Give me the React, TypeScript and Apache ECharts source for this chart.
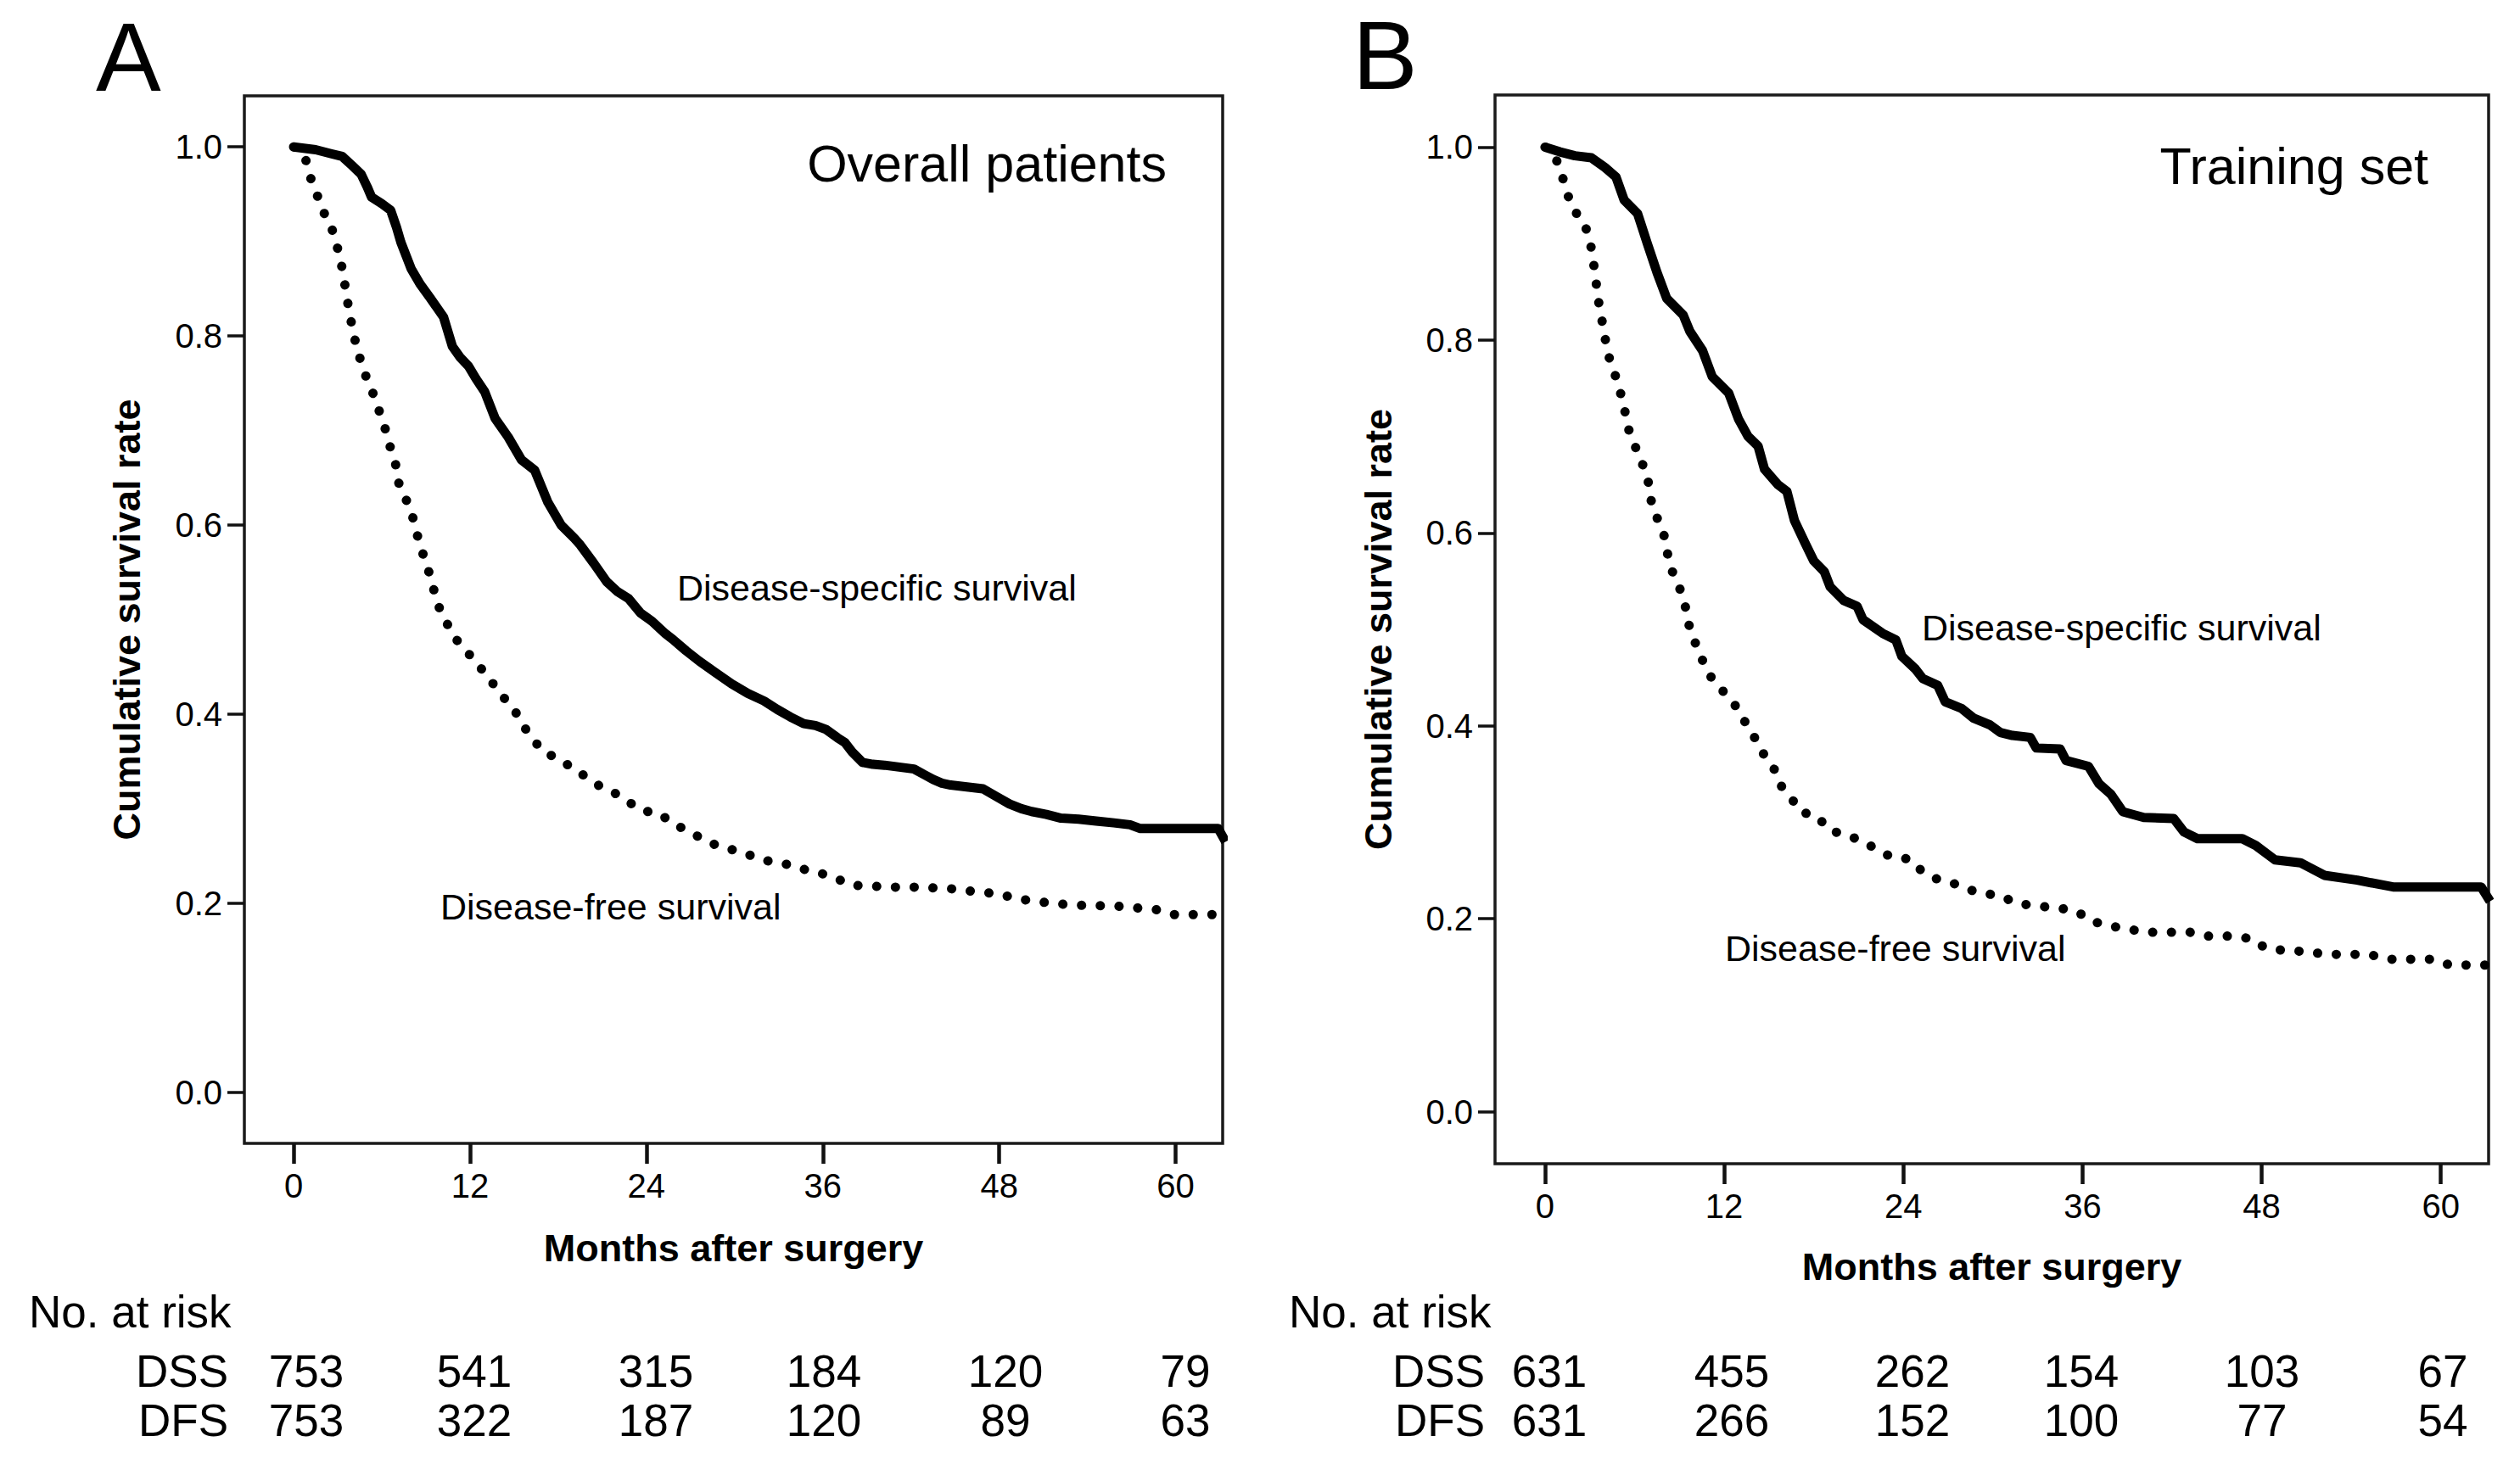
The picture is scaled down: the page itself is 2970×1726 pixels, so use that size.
import React, { useEffect, useRef } from "react";
import * as echarts from "echarts";

// ---------- data ----------
const MONTH_TICKS = [0, 12, 24, 36, 48, 60];
const RATE_TICKS = [0, 0.2, 0.4, 0.6, 0.8, 1.0];

const PANEL_LETTERS = ["A", "B"];
const PANEL_TITLES = ["Overall patients", "Training set"];
const CURVE_LABELS = ["Disease-specific survival", "Disease-free survival"];
const RISK_ROW_NAMES = ["DSS", "DFS"];

// Panel A – overall patients (month, cumulative survival)
const DSS_A: [number, number][] = [
  [0, 1.0], [1.5, 0.997], [2.5, 0.993], [3.3, 0.99], [4.0, 0.98], [4.6, 0.971], [5.0, 0.958], [5.3, 0.947],
  [6.0, 0.94], [6.6, 0.933], [7.0, 0.915], [7.3, 0.899], [8.0, 0.871], [8.6, 0.855], [9.3, 0.84], [10.2, 0.82],
  [10.8, 0.789], [11.3, 0.778], [11.9, 0.768], [12.4, 0.755], [13.0, 0.741], [13.7, 0.713], [14.6, 0.693],
  [15.5, 0.669], [16.4, 0.658], [17.3, 0.624], [18.2, 0.6], [19.1, 0.586], [19.5, 0.579], [20.4, 0.56],
  [21.3, 0.54], [22.0, 0.53], [22.8, 0.522], [23.6, 0.507], [24.4, 0.498], [25.3, 0.485], [25.8, 0.479],
  [26.7, 0.467], [27.6, 0.456], [28.7, 0.444], [29.8, 0.432], [30.9, 0.422], [32.0, 0.414], [32.9, 0.405],
  [33.8, 0.397], [34.7, 0.39], [35.5, 0.388], [36.2, 0.384], [37.0, 0.375], [37.5, 0.37], [38.0, 0.36],
  [38.7, 0.349], [39.4, 0.347], [40.2, 0.346], [41.2, 0.344], [42.2, 0.342], [42.9, 0.336], [43.5, 0.331],
  [44.1, 0.327], [44.7, 0.325], [45.8, 0.323], [46.9, 0.321], [47.8, 0.313], [48.7, 0.305], [49.5, 0.3],
  [50.2, 0.297], [51.2, 0.294], [52.2, 0.29], [53.4, 0.289], [54.6, 0.287], [55.8, 0.285], [56.9, 0.283],
  [57.6, 0.279], [62.9, 0.279], [63.4, 0.265],
];
const DFS_A: [number, number][] = [
  [0, 1.0], [0.4, 0.995], [0.8, 0.988], [1.16, 0.967], [1.5, 0.954], [1.94, 0.933], [2.5, 0.92], [2.8, 0.902],
  [3.15, 0.885], [3.4, 0.862], [3.6, 0.844], [3.8, 0.823], [4.05, 0.806], [4.3, 0.786], [4.7, 0.768],
  [5.05, 0.751], [5.5, 0.736], [5.9, 0.717], [6.27, 0.7], [6.6, 0.681], [6.94, 0.664], [7.14, 0.645],
  [7.6, 0.629], [8.05, 0.612], [8.3, 0.595], [8.64, 0.578], [9.0, 0.559], [9.4, 0.542], [9.65, 0.523],
  [10.1, 0.505], [10.65, 0.49], [11.2, 0.476], [11.9, 0.464], [12.6, 0.452], [13.2, 0.438], [13.9, 0.427],
  [14.5, 0.413], [15.2, 0.4], [15.75, 0.385], [16.4, 0.371], [17.1, 0.359], [18.2, 0.352], [19.0, 0.342],
  [20.0, 0.333], [20.9, 0.323], [21.8, 0.317], [22.7, 0.308], [23.7, 0.298], [24.9, 0.295], [25.8, 0.284],
  [26.8, 0.277], [27.7, 0.269], [28.8, 0.261], [30.0, 0.256], [31.2, 0.25], [32.2, 0.245], [33.6, 0.241],
  [34.7, 0.236], [36.0, 0.231], [37.1, 0.225], [38.0, 0.219], [39.3, 0.218], [40.9, 0.217], [42.4, 0.217],
  [43.8, 0.216], [45.1, 0.215], [46.4, 0.212], [48.0, 0.21], [49.1, 0.205], [50.5, 0.202], [51.6, 0.2],
  [53.0, 0.198], [56.0, 0.197], [57.4, 0.195], [58.8, 0.193], [59.9, 0.188], [63.4, 0.188],
];

// Panel B – training set
const DSS_B: [number, number][] = [
  [0, 1.0], [1.0, 0.995], [2.0, 0.991], [3.1, 0.989], [4.0, 0.979], [4.75, 0.969], [5.3, 0.945], [6.2, 0.931],
  [6.85, 0.9], [7.5, 0.87], [8.15, 0.843], [9.25, 0.826], [9.7, 0.809], [10.55, 0.789], [11.2, 0.762],
  [12.3, 0.745], [12.96, 0.718], [13.6, 0.7], [14.27, 0.69], [14.7, 0.666], [15.6, 0.65], [16.2, 0.643],
  [16.7, 0.613], [17.4, 0.59], [18.0, 0.571], [18.7, 0.56], [19.1, 0.544], [20.0, 0.53], [20.9, 0.524],
  [21.3, 0.51], [22.6, 0.496], [23.5, 0.489], [23.9, 0.472], [24.8, 0.459], [25.3, 0.449], [26.3, 0.442],
  [26.8, 0.425], [27.9, 0.418], [28.7, 0.408], [29.8, 0.401], [30.5, 0.393], [31.3, 0.39], [32.5, 0.388],
  [32.9, 0.377], [34.5, 0.376], [34.9, 0.364], [36.4, 0.358], [37.1, 0.34], [37.9, 0.329], [38.7, 0.311],
  [40.1, 0.305], [42.1, 0.304], [42.8, 0.29], [43.7, 0.283], [46.7, 0.283], [47.6, 0.276], [48.9, 0.261],
  [50.6, 0.258], [52.2, 0.245], [54.4, 0.24], [56.8, 0.233], [62.7, 0.233], [63.3, 0.218],
];
const DFS_B: [number, number][] = [
  [0, 1.0], [0.17, 0.999], [0.71, 0.989], [1.15, 0.97], [1.48, 0.952], [1.9, 0.935], [2.58, 0.923], [3.0, 0.904],
  [3.2, 0.885], [3.38, 0.865], [3.55, 0.843], [3.78, 0.823], [4.0, 0.804], [4.2, 0.786], [4.63, 0.767],
  [4.97, 0.75], [5.3, 0.731], [5.5, 0.711], [5.96, 0.694], [6.3, 0.677], [6.84, 0.663], [7.0, 0.641],
  [7.28, 0.622], [7.8, 0.607], [8.08, 0.591], [8.3, 0.569], [8.73, 0.552], [9.18, 0.537], [9.5, 0.517],
  [9.72, 0.498], [10.15, 0.483], [10.6, 0.466], [11.14, 0.45], [11.8, 0.438], [12.56, 0.425], [13.1, 0.413],
  [13.66, 0.396], [14.3, 0.382], [14.75, 0.367], [15.4, 0.354], [15.8, 0.338], [16.5, 0.325], [17.1, 0.311],
  [18.25, 0.306], [19.0, 0.292], [20.1, 0.287], [21.2, 0.281], [22.2, 0.272], [23.2, 0.264], [24.4, 0.262],
  [25.2, 0.25], [26.1, 0.242], [27.3, 0.237], [28.4, 0.23], [29.6, 0.226], [30.6, 0.223], [31.6, 0.216],
  [33.0, 0.213], [34.5, 0.211], [35.7, 0.207], [36.5, 0.198], [37.7, 0.193], [39.1, 0.189], [40.4, 0.186],
  [43.2, 0.186], [44.4, 0.182], [46.1, 0.182], [47.4, 0.179], [48.2, 0.17], [49.5, 0.167], [51.1, 0.166],
  [52.3, 0.163], [55.2, 0.163], [56.5, 0.158], [59.4, 0.158], [60.6, 0.152], [63.3, 0.152],
];

// Numbers at risk
const RISK_DSS_A = [753, 541, 315, 184, 120, 79];
const RISK_DFS_A = [753, 322, 187, 120, 89, 63];
const RISK_DSS_B = [631, 455, 262, 154, 103, 67];
const RISK_DFS_B = [631, 266, 152, 100, 77, 54];

// ---------- layout ----------
const FONT = "Liberation Sans";
const X_MIN = -3.35;
const X_MAX = 63.2;
const Y_MIN = -0.054;
const Y_MAX = 1.054;

const GRIDS = [
  { left: 288, top: 113, width: 1153, height: 1235 },
  { left: 1762, top: 112, width: 1171, height: 1260 },
];

const PANELS = [
  {
    letter: { x: 113, y: 67 },
    title: { x: 1375, y: 193 },
    dssLabel: { x: 798, y: 693 },
    dfsLabel: { x: 519, y: 1069 },
    riskTitle: { x: 34, y: 1546 },
    rowNameX: 269,
    rowY: [1616, 1674],
    colX: [361, 559, 773, 971, 1185, 1397],
    xNameGap: 101,
    yNameGap: 116,
  },
  {
    letter: { x: 1594, y: 65 },
    title: { x: 2862, y: 196 },
    dssLabel: { x: 2265, y: 740 },
    dfsLabel: { x: 2033, y: 1118 },
    riskTitle: { x: 1519, y: 1546 },
    rowNameX: 1750,
    rowY: [1616, 1674],
    colX: [1826, 2041, 2254, 2453, 2666, 2879],
    xNameGap: 99,
    yNameGap: 115,
  },
];

const RISK = [
  [RISK_DSS_A, RISK_DFS_A],
  [RISK_DSS_B, RISK_DFS_B],
];
const CURVES = [
  [DSS_A, DFS_A],
  [DSS_B, DFS_B],
];

function text(str: string, x: number, y: number, size: number, align: string, extra: any = {}) {
  return {
    type: "text",
    silent: true,
    style: {
      text: str,
      x,
      y,
      fontSize: size,
      fontFamily: FONT,
      fill: "#000",
      textAlign: align,
      textVerticalAlign: "middle",
      ...extra,
    },
  };
}

function buildOption() {
  const xAxis = GRIDS.map((_, i) => ({
    type: "value",
    gridIndex: i,
    min: X_MIN,
    max: X_MAX,
    name: "Months after surgery",
    nameLocation: "middle",
    nameGap: PANELS[i].xNameGap,
    nameTextStyle: { fontFamily: FONT, fontSize: 45, fontWeight: "bold", color: "#000" },
    axisLine: { show: false, onZero: false },
    axisTick: {
      show: true,
      inside: false,
      length: 24,
      customValues: MONTH_TICKS,
      lineStyle: { color: "#111", width: 4.5 },
    },
    axisLabel: {
      show: true,
      customValues: MONTH_TICKS,
      margin: 30,
      fontFamily: FONT,
      fontSize: 40,
      color: "#000",
    },
    splitLine: { show: false },
  }));

  const yAxis = GRIDS.map((_, i) => ({
    type: "value",
    gridIndex: i,
    min: Y_MIN,
    max: Y_MAX,
    name: "Cumulative survival rate",
    nameLocation: "middle",
    nameRotate: 90,
    nameGap: PANELS[i].yNameGap,
    nameTextStyle: { fontFamily: FONT, fontSize: 45, fontWeight: "bold", color: "#000" },
    axisLine: { show: false, onZero: false },
    axisTick: {
      show: true,
      inside: false,
      length: 20,
      customValues: RATE_TICKS,
      lineStyle: { color: "#111", width: 3.5 },
    },
    axisLabel: {
      show: true,
      customValues: RATE_TICKS,
      margin: 26,
      fontFamily: FONT,
      fontSize: 40,
      color: "#000",
      formatter: (v: number) => v.toFixed(1),
    },
    splitLine: { show: false },
  }));

  const series: any[] = [];
  CURVES.forEach((pair, i) => {
    series.push({
      type: "line",
      name: `DSS-${i}`,
      xAxisIndex: i,
      yAxisIndex: i,
      data: pair[0],
      symbol: "none",
      showSymbol: false,
      silent: true,
      clip: true,
      z: 3,
      lineStyle: { color: "#000", width: 11, cap: "butt", join: "round" },
    });
    series.push({
      type: "line",
      name: `DFS-${i}`,
      xAxisIndex: i,
      yAxisIndex: i,
      data: pair[1],
      symbol: "none",
      showSymbol: false,
      silent: true,
      clip: true,
      z: 2,
      lineStyle: { color: "#000", width: 11, type: [0.1, 22], cap: "round", join: "round" },
    });
  });

  const elements: any[] = [];
  PANELS.forEach((p, i) => {
    elements.push(text(PANEL_LETTERS[i], p.letter.x, p.letter.y, 115, "left"));
    elements.push(text(PANEL_TITLES[i], p.title.x, p.title.y, 61, "right"));
    elements.push(text(CURVE_LABELS[0], p.dssLabel.x, p.dssLabel.y, 43, "left"));
    elements.push(text(CURVE_LABELS[1], p.dfsLabel.x, p.dfsLabel.y, 43, "left"));
    elements.push(text("No. at risk", p.riskTitle.x, p.riskTitle.y, 53, "left"));
    RISK[i].forEach((row, r) => {
      elements.push(text(RISK_ROW_NAMES[r], p.rowNameX, p.rowY[r], 53, "right"));
      row.forEach((n, c) => {
        elements.push(text(String(n), p.colX[c], p.rowY[r], 53, "center"));
      });
    });
  });

  return {
    animation: false,
    backgroundColor: "#fff",
    textStyle: { fontFamily: FONT },
    grid: GRIDS.map((g) => ({
      ...g,
      show: true,
      borderColor: "#1a1a1a",
      borderWidth: 3.5,
      backgroundColor: "transparent",
      containLabel: false,
    })),
    xAxis,
    yAxis,
    series,
    graphic: { elements },
  };
}

export default function App() {
  const ref = useRef<HTMLDivElement>(null);
  useEffect(() => {
    if (!ref.current) return;
    const chart = echarts.init(ref.current, null, { renderer: "svg" });
    chart.setOption(buildOption() as any);
    return () => {
      chart.dispose();
    };
  }, []);
  return (
    <div
      ref={ref}
      style={{ position: "fixed", left: 0, top: 0, width: 2970, height: 1726, background: "#fff" }}
    />
  );
}
